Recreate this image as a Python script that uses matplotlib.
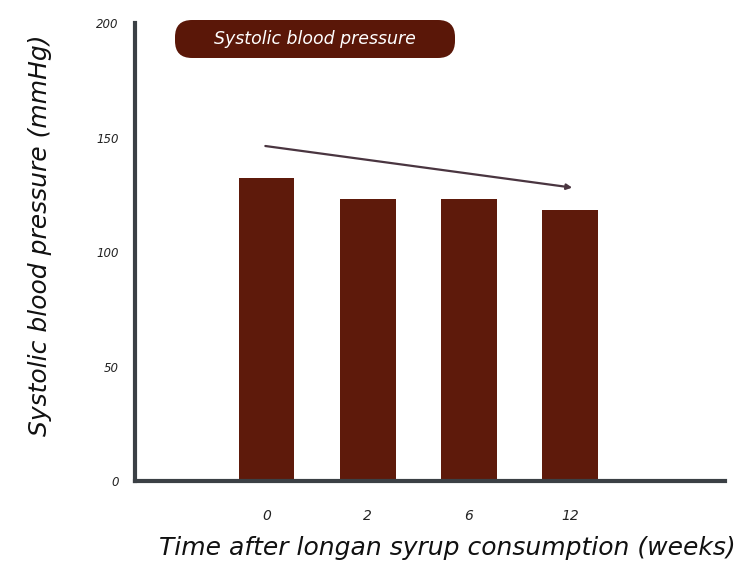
import matplotlib
matplotlib.use('Agg')
import matplotlib.pyplot as plt
from matplotlib.patches import FancyBboxPatch

weeks = ['0', '2', '6', '12']
systolic = [132.5, 123, 123, 118.5]
trend_start = 146.5
trend_end = 128

bar_col = '#5e1a0b'
axis_col = '#3b4045'

plt.rcParams['font.family'] = ['DejaVu Sans']

W, H = 747, 564
fig = plt.figure(figsize=(W / 100, H / 100), dpi=100)
ax = fig.add_axes([0.181, 0.147, 0.789, 0.812])

x = range(len(weeks))
ax.bar(x, systolic, width=0.55, color=bar_col, zorder=2)

ax.annotate('', xy=(3.05, trend_end), xytext=(-0.04, trend_start),
            arrowprops=dict(arrowstyle='-|>', color='#4a3540', lw=1.6,
                            mutation_scale=8))

ax.set_xlim(-1.3, 4.53)
ax.set_ylim(0, 200)
ax.set_xticks(list(x))
ax.set_xticklabels(weeks, fontsize=10, style='italic', color='#222222')
ax.set_yticks([0, 50, 100, 150, 200])
ax.set_yticklabels(['0', '50', '100', '150', '200'], fontsize=8.5,
                   style='italic', color='#222222')
ax.tick_params(length=0, pad=12)
ax.tick_params(axis='x', pad=20)

for s in ['top', 'right']:
    ax.spines[s].set_visible(False)
for s in ['left', 'bottom']:
    ax.spines[s].set_color(axis_col)
    ax.spines[s].set_linewidth(3)

# labels placed in figure coords
fig.text(447 / W, 1 - 548 / H, 'Time after longan syrup consumption (weeks)',
         fontsize=18, style='italic', color='#111111', ha='center', va='center')
fig.text(40 / W, 1 - 235 / H, 'Systolic blood pressure (mmHg)',
         fontsize=18, style='italic', color='#111111', ha='center', va='center',
         rotation=90)

# title pill
bx0, by0, bw, bh, r = 175, 20, 280, 38, 17
pill = FancyBboxPatch((bx0 / W, 1 - (by0 + bh) / H), bw / W, bh / H,
                      boxstyle='round,pad=0,rounding_size=%f' % (r / W),
                      mutation_aspect=W / H, transform=fig.transFigure,
                      fc='#5a1708', ec='none', zorder=5)
fig.patches.append(pill)
fig.text((bx0 + bw / 2) / W, 1 - (by0 + bh / 2) / H, 'Systolic blood pressure',
         fontsize=12.5, style='italic', color='white', ha='center', va='center',
         zorder=6)

fig.savefig('out.png', dpi=100)
